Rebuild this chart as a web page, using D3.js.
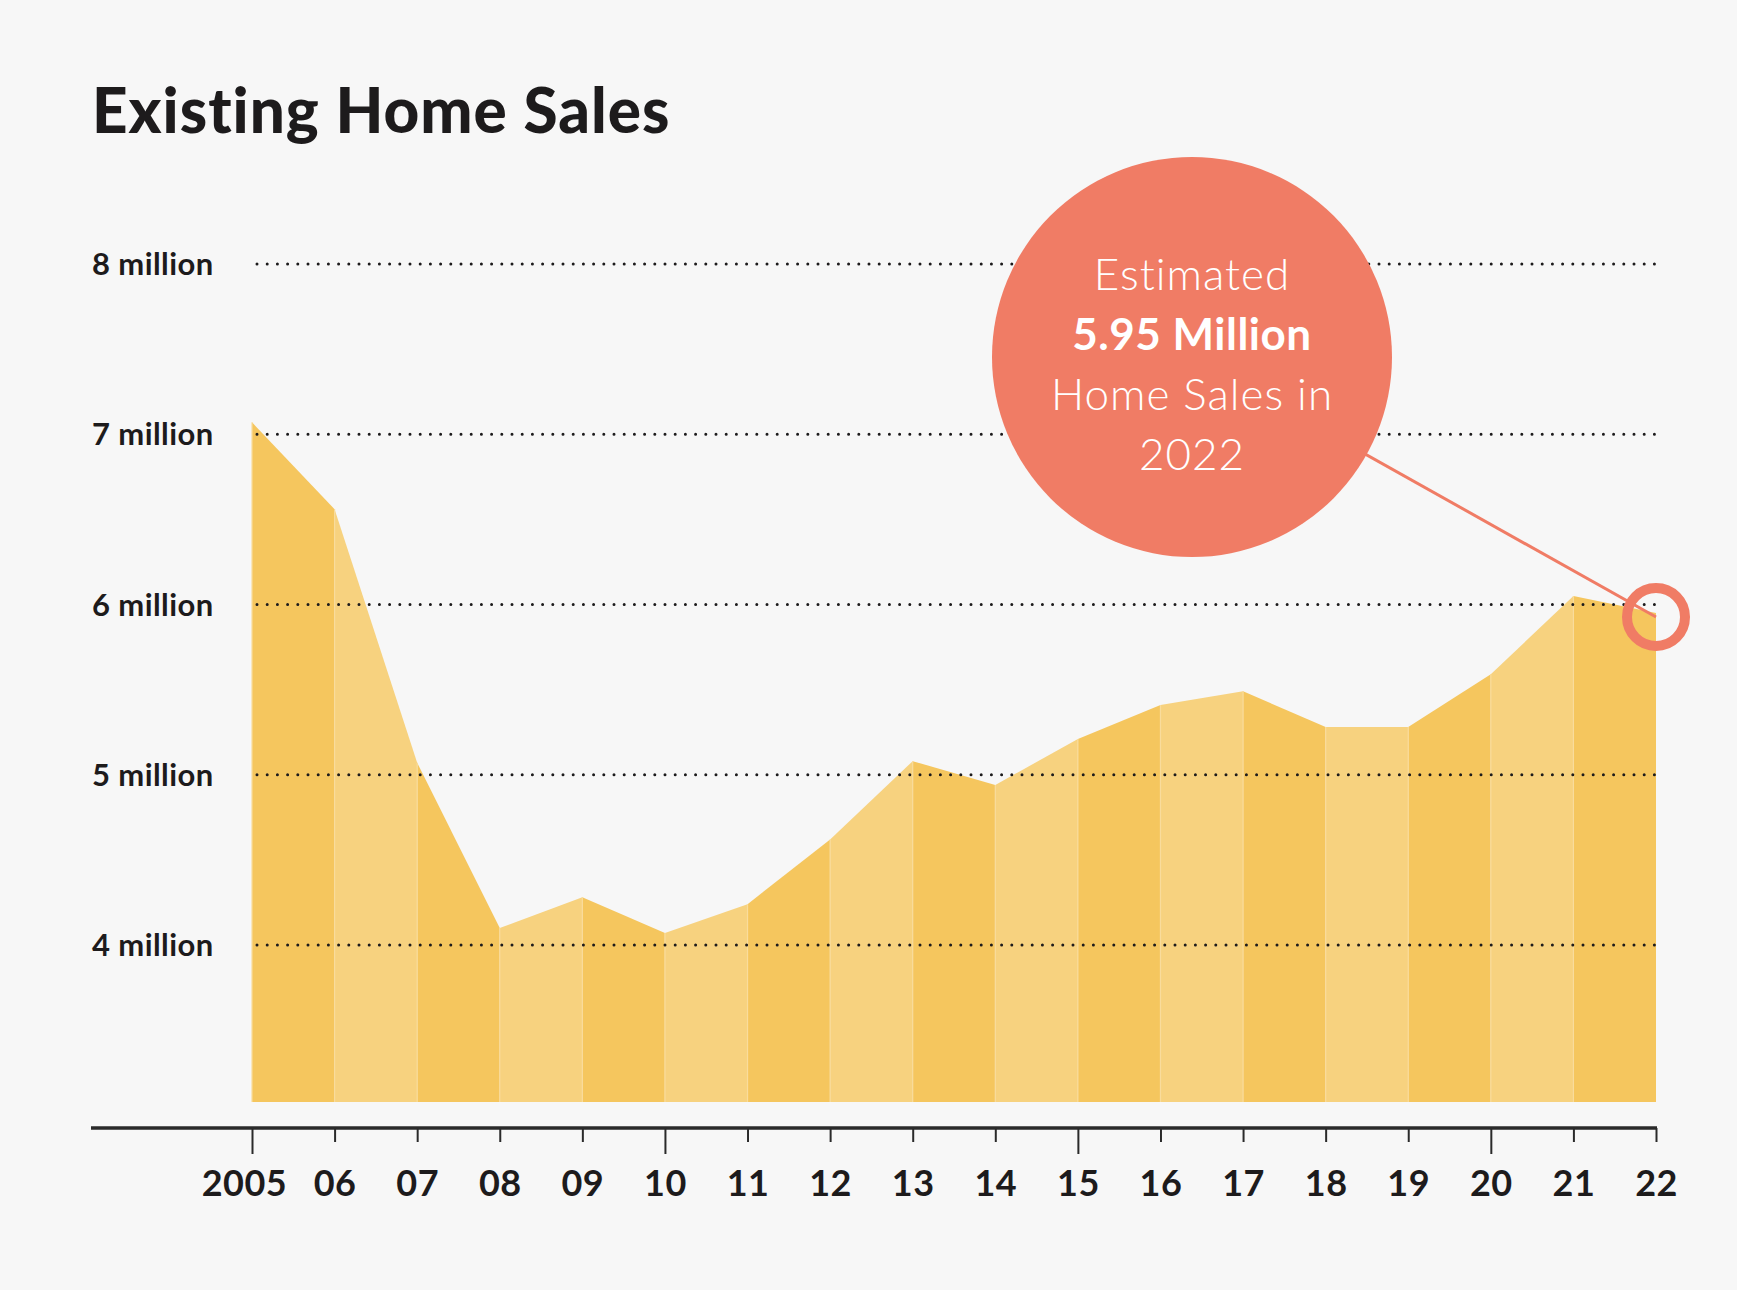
<!DOCTYPE html>
<html>
<head>
<meta charset="utf-8">
<script src="https://cdn.jsdelivr.net/npm/d3@7"></script>
<style>
  body { margin: 0; background: #f7f7f7; }
  svg { display: block; font-family: Lato, "Open Sans", sans-serif; }
</style>
</head>
<body>
<script>
// data (millions of sales)
var years = [2005, 2006, 2007, 2008, 2009, 2010, 2011, 2012, 2013, 2014, 2015, 2016, 2017, 2018, 2019, 2020, 2021, 2022];
var sales = [7.07, 6.56, 5.07, 4.10, 4.28, 4.07, 4.24, 4.62, 5.08, 4.94, 5.21, 5.41, 5.49, 5.28, 5.28, 5.59, 6.05, 5.95];
var yTicks = [4, 5, 6, 7, 8];
var yTickLabels = ["4 million", "5 million", "6 million", "7 million", "8 million"];
var xTickLabels = ["2005", "06", "07", "08", "09", "10", "11", "12", "13", "14", "15", "16", "17", "18", "19", "20", "21", "22"];
var majorYears = [2005, 2010, 2015, 2020];
var calloutLines = ["Estimated", "5.95 Million", "Home Sales in", "2022"];

var width = 1737;
var height = 1290;
var areaBottom = 1102;
var axisY = 1128;

var svg = d3.select("body").append("svg")
    .attr("width", width)
    .attr("height", height);

svg.append("rect")
    .attr("width", width)
    .attr("height", height)
    .attr("fill", "#f7f7f7");

var x = d3.scaleLinear().domain([2005, 2022]).range([252, 1656]);
var y = d3.scaleLinear().domain([4, 8]).range([945, 264]);

// title
svg.append("text")
    .attr("x", 92)
    .attr("y", 133)
    .attr("font-size", 62)
    .attr("font-weight", 900)
    .attr("fill", "#1d1b1c")
    .attr("letter-spacing", 1)
    .text("Existing Home Sales");

// striped area, one slice per year interval
var area = d3.area()
    .x(function(d) { return x(d.year); })
    .y0(areaBottom)
    .y1(function(d) { return y(d.value); });

var points = years.map(function(yr, i) { return { year: yr, value: sales[i] }; });
var slices = d3.range(points.length - 1).map(function(i) { return [points[i], points[i + 1]]; });

svg.append("g").selectAll("path")
    .data(slices)
    .enter()
    .append("path")
    .attr("d", area)
    .attr("fill", function(d, i) { return i % 2 === 0 ? "#f5c65e" : "#f7d27f"; });

// thin light separators between slices
svg.append("g").selectAll("line")
    .data(points.slice(0, -1))
    .enter()
    .append("line")
    .attr("x1", function(d) { return x(d.year); })
    .attr("x2", function(d) { return x(d.year); })
    .attr("y1", function(d) { return y(d.value); })
    .attr("y2", areaBottom)
    .attr("stroke", "#f9dc9c")
    .attr("stroke-width", 1.2);

// dotted gridlines + y labels
var grid = svg.append("g");
grid.selectAll("line")
    .data(yTicks)
    .enter()
    .append("line")
    .attr("x1", x(2005) + 5)
    .attr("x2", x(2022) + 2)
    .attr("y1", function(d) { return y(d); })
    .attr("y2", function(d) { return y(d); })
    .attr("stroke", "#1d1b1c")
    .attr("stroke-width", 3)
    .attr("stroke-linecap", "round")
    .attr("stroke-dasharray", "0,10.2");

grid.selectAll("text")
    .data(yTicks)
    .enter()
    .append("text")
    .attr("x", 92)
    .attr("y", function(d) { return y(d) + 11; })
    .attr("font-size", 31)
    .attr("font-weight", 700)
    .attr("letter-spacing", 0.4)
    .attr("fill", "#1d1b1c")
    .text(function(d, i) { return yTickLabels[i]; });

// x axis
var xAxis = d3.axisBottom(x)
    .tickValues(years)
    .tickSize(13)
    .tickSizeOuter(0)
    .tickPadding(29)
    .tickFormat(function(d, i) { return xTickLabels[i]; });

var gx = svg.append("g")
    .attr("transform", "translate(0," + axisY + ")")
    .call(xAxis);

gx.select(".domain").remove();
gx.selectAll(".tick line")
    .attr("stroke", "#2a2a2a")
    .attr("stroke-width", 2)
    .attr("y2", function(d) { return majorYears.indexOf(d) >= 0 ? 26 : 14; });
gx.selectAll(".tick text")
    .attr("font-family", "Lato, sans-serif")
    .attr("font-size", 36)
    .attr("font-weight", 700)
    .attr("letter-spacing", 0.5)
    .attr("fill", "#1d1b1c")
    .attr("dy", "0.71em")
    .attr("dx", function(d) { return d === 2005 ? -8 : 0; });

gx.append("line")
    .attr("x1", 91)
    .attr("x2", x(2022) + 1)
    .attr("y1", 0)
    .attr("y2", 0)
    .attr("stroke", "#2a2a2a")
    .attr("stroke-width", 3.5);

// callout
var cx = 1192, cy = 357, r = 200;
var last = points[points.length - 1];
var ringX = x(last.year), ringY = y(last.value) + 4;

svg.append("line")
    .attr("x1", cx)
    .attr("y1", cy)
    .attr("x2", ringX)
    .attr("y2", ringY)
    .attr("stroke", "#f07c65")
    .attr("stroke-width", 3);

svg.append("circle")
    .attr("cx", cx)
    .attr("cy", cy)
    .attr("r", r)
    .attr("fill", "#f07c65");

svg.append("circle")
    .attr("cx", ringX)
    .attr("cy", ringY)
    .attr("r", 29)
    .attr("fill", "none")
    .attr("stroke", "#f07c65")
    .attr("stroke-width", 10);

svg.append("g").selectAll("text")
    .data(calloutLines)
    .enter()
    .append("text")
    .attr("x", cx)
    .attr("y", function(d, i) { return 290 + i * 60; })
    .attr("text-anchor", "middle")
    .attr("font-size", 44)
    .attr("letter-spacing", function(d, i) { return i === 1 ? 0.5 : 1; })
    .attr("font-weight", function(d, i) { return i === 1 ? 700 : 300; })
    .attr("fill", "#ffffff")
    .text(function(d) { return d; });
</script>
</body>
</html>
